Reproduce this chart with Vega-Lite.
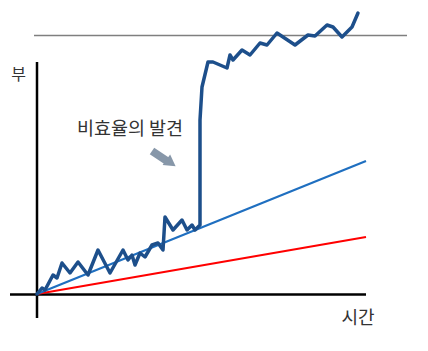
{
  "$schema": "https://vega.github.io/schema/vega-lite/v6.json",
  "width": 428,
  "height": 351,
  "autosize": {"type": "fit", "contains": "padding"},
  "padding": 0,
  "background": "white",
  "config": {"view": {"stroke": null}},
  "encoding": {
    "x": {"type": "quantitative", "scale": {"domain": [-37, 391], "nice": false, "zero": false}, "axis": null},
    "y": {"type": "quantitative", "scale": {"domain": [-57, 294], "nice": false, "zero": false}, "axis": null}
  },
  "layer": [
    {
      "data": {"values": [{"x1": -3, "x2": 370, "y1": 258.5, "y2": 258.5}]},
      "mark": {"type": "rule", "color": "#7f7f7f", "strokeWidth": 1.6},
      "encoding": {"x": {"field": "x1"}, "x2": {"field": "x2"}, "y": {"field": "y1"}, "y2": {"field": "y2"}}
    },
    {
      "data": {"values": [
        {"x1": 0, "x2": 0, "y1": -24, "y2": 232},
        {"x1": -27, "x2": 329, "y1": -0.5, "y2": -0.5}
      ]},
      "mark": {"type": "rule", "color": "#000000", "strokeWidth": 2.5},
      "encoding": {"x": {"field": "x1"}, "x2": {"field": "x2"}, "y": {"field": "y1"}, "y2": {"field": "y2"}}
    },
    {
      "data": {"values": [{"x1": 0, "x2": 329, "y1": 0, "y2": 57}]},
      "mark": {"type": "rule", "color": "#ff0000", "strokeWidth": 2.2},
      "encoding": {"x": {"field": "x1"}, "x2": {"field": "x2"}, "y": {"field": "y1"}, "y2": {"field": "y2"}}
    },
    {
      "data": {"values": [{"x1": 0, "x2": 329, "y1": 0, "y2": 133}]},
      "mark": {"type": "rule", "color": "#1f6fc0", "strokeWidth": 2.2},
      "encoding": {"x": {"field": "x1"}, "x2": {"field": "x2"}, "y": {"field": "y1"}, "y2": {"field": "y2"}}
    },
    {
      "data": {"values": [
        {"i": 0, "t": 0, "w": 0}, {"i": 1, "t": 5, "w": 6}, {"i": 2, "t": 8, "w": 4},
        {"i": 3, "t": 16, "w": 19}, {"i": 4, "t": 20, "w": 16}, {"i": 5, "t": 25, "w": 31},
        {"i": 6, "t": 33, "w": 21}, {"i": 7, "t": 41, "w": 32}, {"i": 8, "t": 51, "w": 19},
        {"i": 9, "t": 61, "w": 44}, {"i": 10, "t": 73, "w": 21}, {"i": 11, "t": 86, "w": 44},
        {"i": 12, "t": 91, "w": 34}, {"i": 13, "t": 95, "w": 39}, {"i": 14, "t": 98, "w": 29},
        {"i": 15, "t": 103, "w": 41}, {"i": 16, "t": 108, "w": 37}, {"i": 17, "t": 115, "w": 49},
        {"i": 18, "t": 121, "w": 51}, {"i": 19, "t": 126, "w": 44}, {"i": 20, "t": 128, "w": 77},
        {"i": 21, "t": 136, "w": 64}, {"i": 22, "t": 145, "w": 74}, {"i": 23, "t": 150, "w": 64},
        {"i": 24, "t": 155, "w": 69}, {"i": 25, "t": 158, "w": 64}, {"i": 26, "t": 163, "w": 69},
        {"i": 27, "t": 163, "w": 174}, {"i": 28, "t": 165, "w": 207}, {"i": 29, "t": 171, "w": 232},
        {"i": 30, "t": 176, "w": 232}, {"i": 31, "t": 183, "w": 229}, {"i": 32, "t": 190, "w": 226},
        {"i": 33, "t": 193, "w": 239}, {"i": 34, "t": 196, "w": 234}, {"i": 35, "t": 205, "w": 244},
        {"i": 36, "t": 213, "w": 239}, {"i": 37, "t": 223, "w": 251}, {"i": 38, "t": 230, "w": 249},
        {"i": 39, "t": 240, "w": 261}, {"i": 40, "t": 258, "w": 249}, {"i": 41, "t": 271, "w": 259},
        {"i": 42, "t": 278, "w": 258}, {"i": 43, "t": 290, "w": 269}, {"i": 44, "t": 296, "w": 267},
        {"i": 45, "t": 305, "w": 257}, {"i": 46, "t": 315, "w": 267}, {"i": 47, "t": 321, "w": 281}
      ]},
      "mark": {"type": "line", "color": "#1d4f8b", "strokeWidth": 3.5, "strokeJoin": "round", "strokeCap": "round"},
      "encoding": {"x": {"field": "t"}, "y": {"field": "w"}, "order": {"field": "i"}}
    },
    {
      "data": {"values": [{"x1": 115, "x2": 130, "y1": 143, "y2": 133}]},
      "mark": {"type": "rule", "color": "#8797a9", "strokeWidth": 8},
      "encoding": {"x": {"field": "x1"}, "x2": {"field": "x2"}, "y": {"field": "y1"}, "y2": {"field": "y2"}}
    },
    {
      "data": {"values": [{"x": 134, "y": 131}]},
      "mark": {"type": "point", "shape": "triangle-right", "filled": true, "color": "#8797a9", "size": 170, "angle": 35, "opacity": 1},
      "encoding": {"x": {"field": "x"}, "y": {"field": "y"}}
    },
    {
      "data": {"values": [
        {"x": 93, "y": 165.5, "label": "비효율의 발견", "s": 18.5},
        {"x": -18.5, "y": 219, "label": "부", "s": 16},
        {"x": 321, "y": -24.5, "label": "시간", "s": 18}
      ]},
      "mark": {"type": "text", "font": "Noto Sans CJK KR", "color": "#333333", "align": "center", "baseline": "middle"},
      "encoding": {"x": {"field": "x"}, "y": {"field": "y"}, "text": {"field": "label"}, "size": {"field": "s", "type": "quantitative", "scale": null, "legend": null}}
    }
  ]
}
